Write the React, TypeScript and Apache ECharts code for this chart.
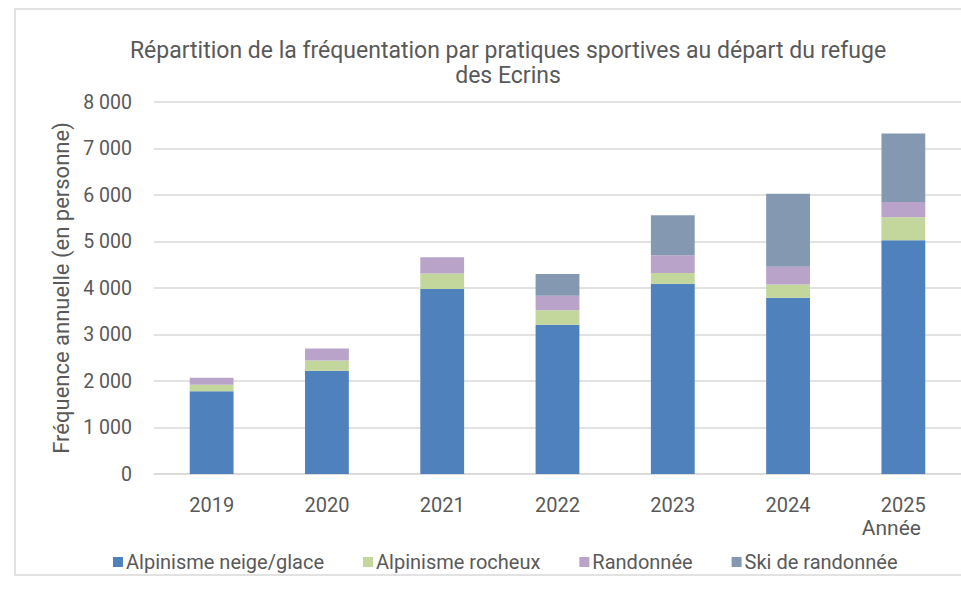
import React, { useEffect, useRef } from "react";
import * as echarts from "echarts";

const years = ["2019", "2020", "2021", "2022", "2023", "2024", "2025"];
const neigeGlace = [1780, 2220, 3980, 3210, 4090, 3790, 5025];
const rocheux = [140, 220, 330, 310, 235, 285, 495];
const randonnee = [150, 260, 350, 315, 380, 380, 330];
const skiRando = [0, 0, 0, 465, 860, 1570, 1470];
const seriesNames = ["Alpinisme neige/glace", "Alpinisme rocheux", "Randonnée", "Ski de randonnée"];
const colors = ["#4F81BD", "#C3D69B", "#B9A3C9", "#8598B1"];

const FONT = "Roboto, sans-serif";
const TXT = "#595959";

export default function App() {
  const ref = useRef<HTMLDivElement>(null);
  useEffect(() => {
    if (!ref.current) return;
    const chart = echarts.init(ref.current, null, { renderer: "svg" });
    const datas = [neigeGlace, rocheux, randonnee, skiRando];
    chart.setOption({
      animation: false,
      backgroundColor: "#ffffff",
      textStyle: { fontFamily: FONT },
      title: {
        text: "Répartition de la fréquentation par pratiques sportives au départ du refuge\ndes Ecrins",
        left: 503,
        top: 33,
        textAlign: "center",
        textStyle: { fontFamily: FONT, fontSize: 23, fontWeight: "normal", color: TXT, lineHeight: 25 },
      },
      legend: {
        data: seriesNames,
        left: 108,
        top: 547,
        itemWidth: 10,
        itemHeight: 10,
        itemGap: 39,
        icon: "rect",
        textStyle: { fontFamily: FONT, fontSize: 20, color: TXT, padding: [0, 0, 0, -2] },
      },
      grid: { left: 154, right: -2, top: 102, bottom: 128 },
      xAxis: {
        type: "category",
        data: years,
        axisLine: { lineStyle: { color: "#d9d9d9", width: 1.5 } },
        axisTick: { show: false },
        axisLabel: { fontFamily: FONT, fontSize: 20, color: TXT, margin: 21 },
      },
      yAxis: {
        type: "value",
        min: 0,
        max: 8000,
        interval: 1000,
        name: "Fréquence annuelle (en personne)",
        nameLocation: "middle",
        nameGap: 76,
        nameTextStyle: { fontFamily: FONT, fontSize: 22, color: TXT },
        axisLine: { show: false },
        axisTick: { show: false },
        splitLine: { lineStyle: { color: "#d9d9d9", width: 1.5 } },
        axisLabel: {
          fontFamily: FONT,
          fontSize: 19.5,
          color: TXT,
          margin: 22,
          formatter: (v: number) => (v >= 1000 ? `${Math.floor(v / 1000)} ${String(v % 1000).padStart(3, "0")}` : String(v)),
        },
      },
      graphic: [
        {
          type: "rect",
          shape: { x: 15, y: 9, width: 960, height: 566 },
          style: { fill: "none", stroke: "#d9d9d9", lineWidth: 1.5 },
          silent: true,
        },
        {
          type: "text",
          x: 921,
          y: 528,
          style: { text: "Année", fontFamily: FONT, fontSize: 21, fill: TXT, align: "right", verticalAlign: "middle" },
        },
      ],
      series: seriesNames.map((name, i) => ({
        name,
        type: "bar",
        stack: "total",
        barWidth: "38%",
        itemStyle: { color: colors[i] },
        data: datas[i],
      })),
    });
    return () => chart.dispose();
  }, []);
  return <div ref={ref} style={{ position: "absolute", left: 0, top: 0, width: 961, height: 602 }} />;
}
